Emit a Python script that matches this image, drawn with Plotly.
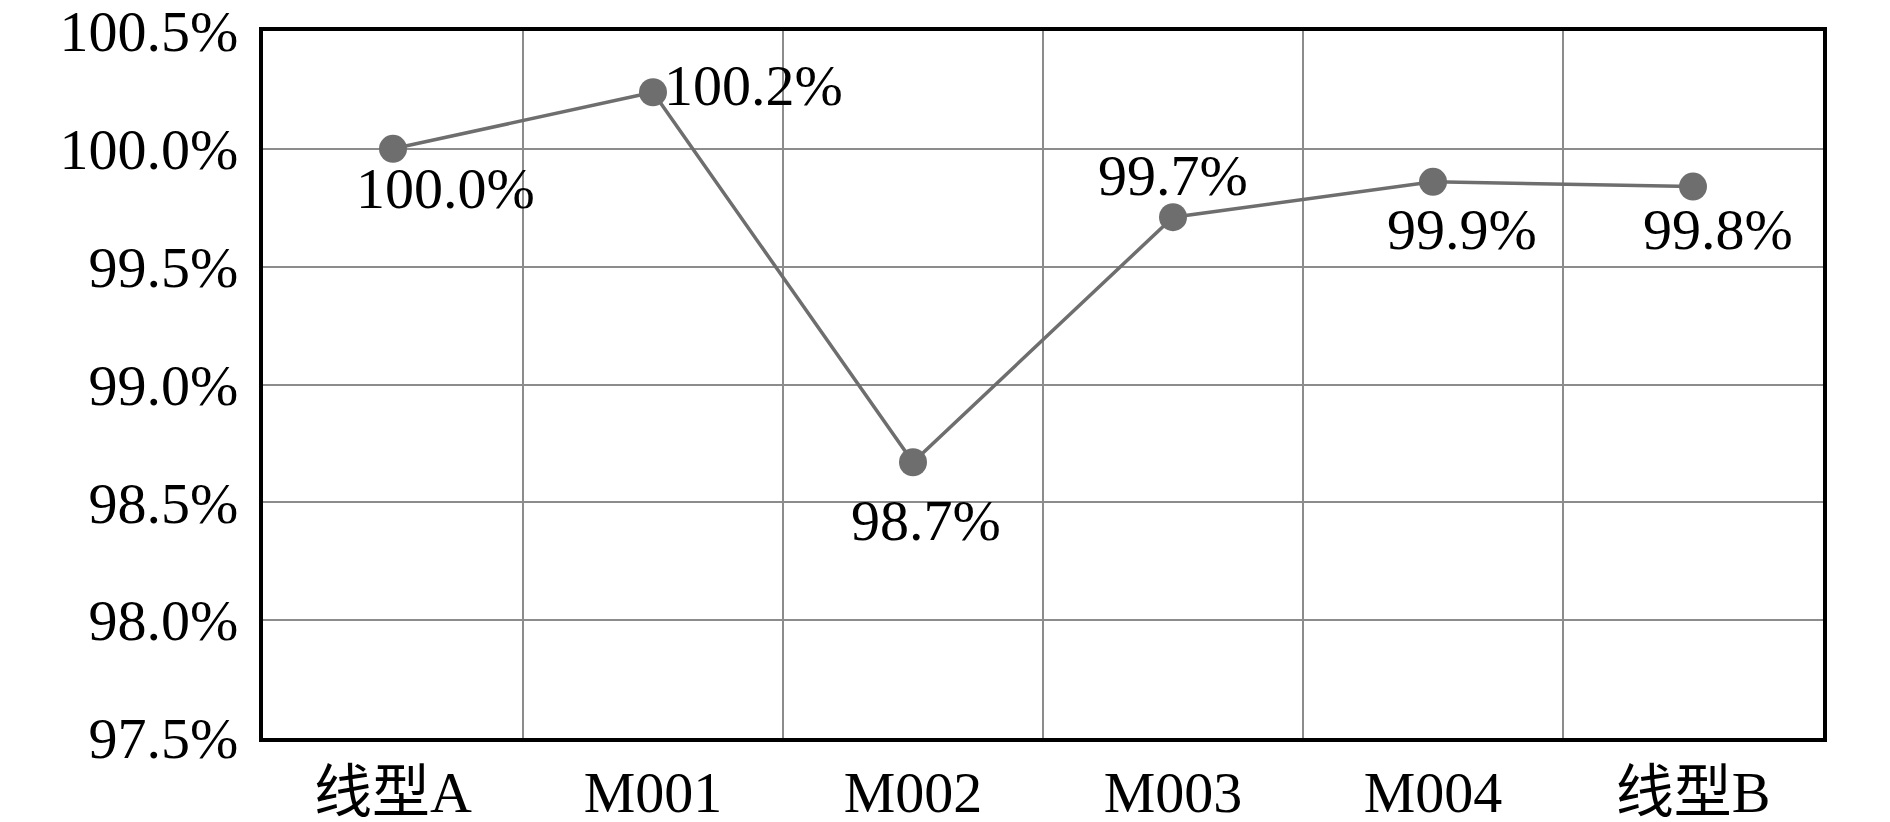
import plotly.graph_objects as go

categories = ["线型A", "M001", "M002", "M003", "M004", "线型B"]
values = [100.0, 100.24, 98.67, 99.71, 99.86, 99.84]
y_ticks = [97.5, 98.0, 98.5, 99.0, 99.5, 100.0, 100.5]

# label offsets (style): (xshift, yshift) in px
label_offsets = [(52, -40), (100, 7), (13, -58), (0, 42), (29, -48), (25, -43)]

FONT = "Liberation Serif, Times New Roman, Noto Sans CJK SC, serif"
FS = 58
LINE_COLOR = "#6e6e6e"
GRID_COLOR = "#8c8c8c"

fig = go.Figure()
fig.add_trace(go.Scatter(
    x=categories, y=values, mode="lines+markers",
    line=dict(color=LINE_COLOR, width=3.5),
    marker=dict(color=LINE_COLOR, size=28),
    showlegend=False, hoverinfo="skip", cliponaxis=False,
))

for cat, v, (dx, dy) in zip(categories, values, label_offsets):
    fig.add_annotation(
        x=cat, y=v, text=f"{v:.1f}%", showarrow=False,
        xanchor="center", yanchor="middle", xshift=dx, yshift=dy,
        font=dict(family=FONT, size=FS, color="#000000"),
    )

fig.update_layout(
    width=1890, height=822,
    margin=dict(l=263, r=67, t=31, b=84),
    paper_bgcolor="white", plot_bgcolor="white",
    font=dict(family=FONT, size=FS, color="#000000"),
)
fig.update_xaxes(
    type="category", range=[-0.5, 5.5], tickson="boundaries",
    showgrid=True, gridcolor=GRID_COLOR, gridwidth=2,
    showline=True, linecolor="#000000", linewidth=4, mirror=True,
    ticks="", ticklabelstandoff=0, automargin=False, ticklabeloverflow="allow",
    tickfont=dict(family=FONT, size=FS, color="#000000"),
)
fig.update_yaxes(
    range=[97.5, 100.5], tickvals=y_ticks,
    ticktext=[f"{t:.1f}%" for t in y_ticks],
    showgrid=True, gridcolor=GRID_COLOR, gridwidth=2, zeroline=False,
    showline=True, linecolor="#000000", linewidth=4, mirror=True,
    ticks="", ticklabelstandoff=9, automargin=False, ticklabeloverflow="allow",
    tickfont=dict(family=FONT, size=FS, color="#000000"),
)

fig.write_html(
    "out.html",
    config={"displayModeBar": False},
    post_script="document.body.style.margin='0';",
)
